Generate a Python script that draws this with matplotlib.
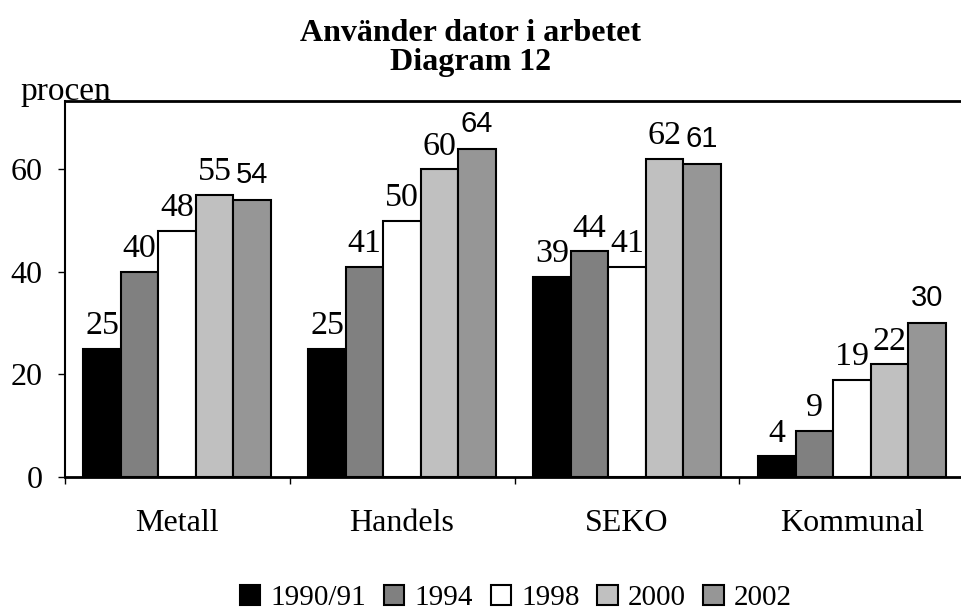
import matplotlib
matplotlib.use("Agg")
import matplotlib.pyplot as plt
import numpy as np

plt.rcParams['font.family'] = ['Liberation Serif', 'DejaVu Serif']

groups = ["Metall", "Handels", "SEKO", "Kommunal"]
years = ["1990/91", "1994", "1998", "2000", "2002"]
v1990 = [25, 25, 39, 4]
v1994 = [40, 41, 44, 9]
v1998 = [48, 50, 41, 19]
v2000 = [55, 60, 62, 22]
v2002 = [54, 64, 61, 30]
series = [v1990, v1994, v1998, v2000, v2002]
colors = ["#000000", "#808080", "#ffffff", "#c0c0c0", "#969696"]

W, H = 961, 610
fig = plt.figure(figsize=(W / 100, H / 100), dpi=100)
ax = fig.add_axes([64.5 / W, (H - 477) / H, 900 / W, (477 - 101) / H])

x = np.arange(len(groups))
bw = 1 / 6
for i, (vals, c) in enumerate(zip(series, colors)):
    pos = x + (i - 2) * bw
    ax.bar(pos, vals, width=bw, color=c, edgecolor="black", linewidth=1.5,
           label=years[i], zorder=3)
    for px, v in zip(pos, vals):
        if i == 4:
            # the 2002 labels are set in a sans face in the original
            ax.annotate(str(v), (px, v), xytext=(0, 12), textcoords="offset points",
                        ha="center", va="baseline", fontsize=21,
                        family="Liberation Sans")
        else:
            ax.annotate(str(v), (px, v), xytext=(0, 10.5), textcoords="offset points",
                        ha="center", va="baseline", fontsize=24.5)

ax.set_xlim(-0.5, 3.5)
ax.set_ylim(0, 73.3)
ax.set_yticks([0, 20, 40, 60])
ax.set_xticks(x)
ax.set_xticklabels(groups, fontsize=23)
ax.set_xticks(np.arange(-0.5, 4, 1), minor=True)
ax.tick_params(axis="x", which="major", length=0, pad=23)
ax.tick_params(axis="x", which="minor", length=5, width=1, direction="out")
ax.tick_params(axis="y", length=5, width=1, direction="out", labelsize=23, pad=11)

ax.spines["top"].set_linewidth(2)
ax.spines["bottom"].set_linewidth(2)
ax.spines["left"].set_linewidth(1.5)
ax.spines["right"].set_linewidth(2)

fig.text(471 / W, 1 - 48 / H, "Använder dator i arbetet\nDiagram 12",
         ha="center", va="center", fontsize=23, fontweight="bold", linespacing=1.0)
fig.text(20 / W, 1 - 100 / H, "procen", ha="left", va="baseline", fontsize=24)

ax.legend(loc="center", bbox_to_anchor=(516 / W, 1 - 598 / H), bbox_transform=fig.transFigure,
          ncol=5, frameon=False, fontsize=21, handlelength=0.7, handleheight=0.7,
          handletextpad=0.35, columnspacing=0.6, borderpad=0)

fig.savefig("out.png", dpi=100)
